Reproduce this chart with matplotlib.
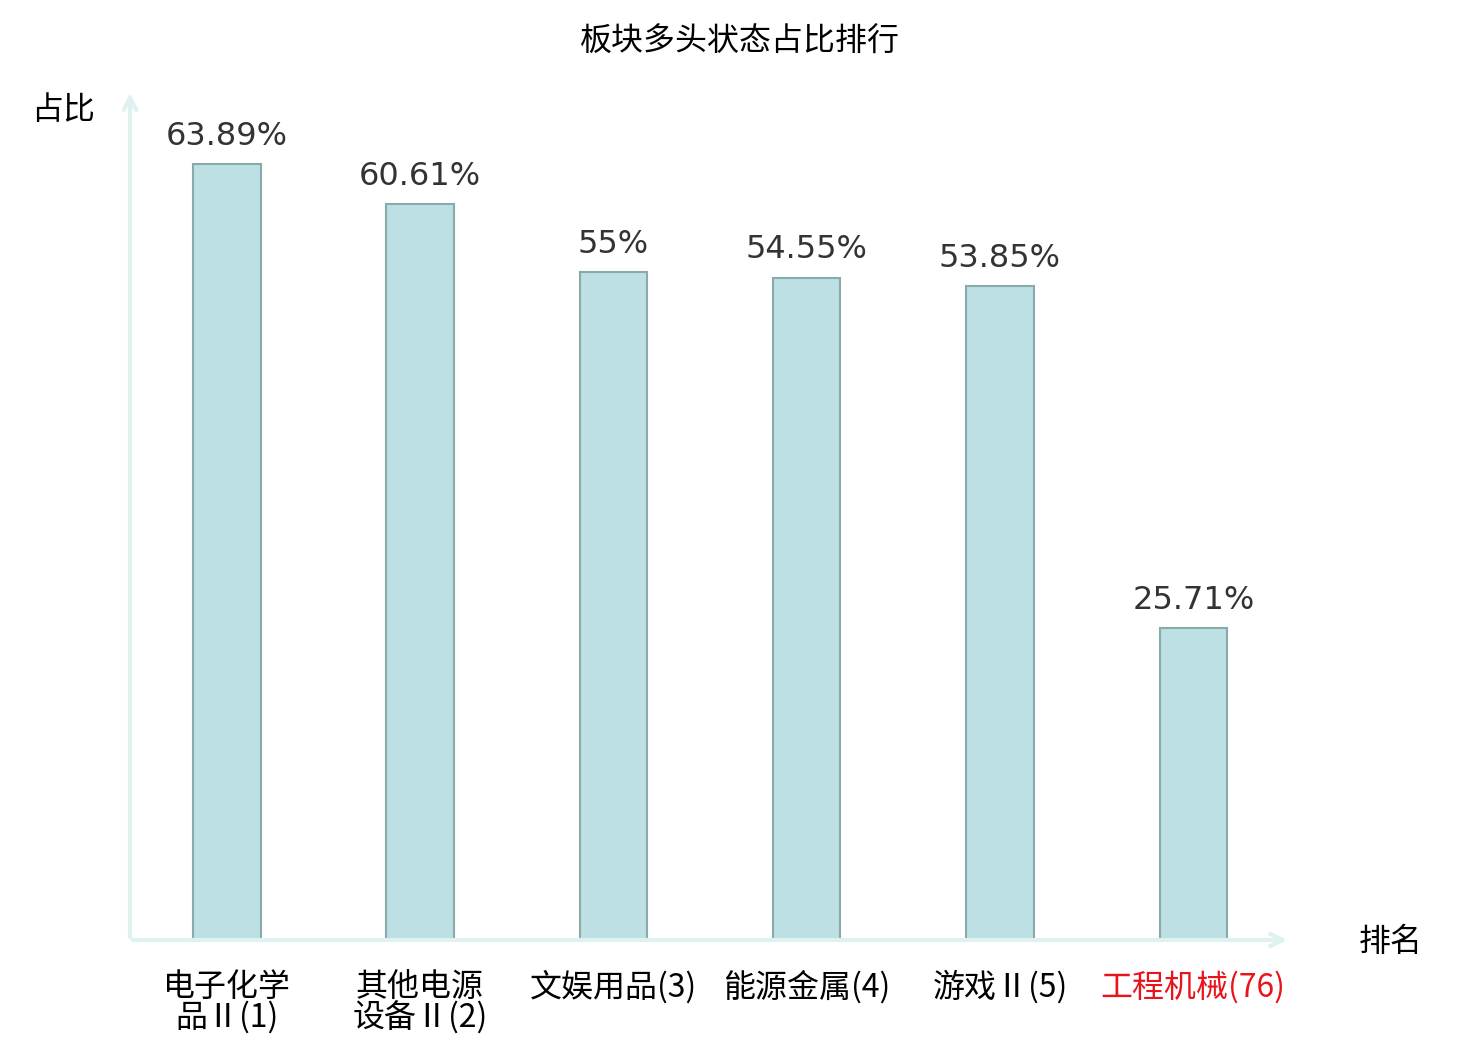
import matplotlib
matplotlib.use("Agg")
import matplotlib.pyplot as plt

plt.rcParams['font.family'] = ['Noto Sans CJK SC', 'DejaVu Sans']

categories = ["电子化学\n品Ⅱ(1)", "其他电源\n设备Ⅱ(2)", "文娱用品(3)", "能源金属(4)", "游戏Ⅱ(5)", "工程机械(76)"]
values = [63.89, 60.61, 55, 54.55, 53.85, 25.71]
value_labels = ["63.89%", "60.61%", "55%", "54.55%", "53.85%", "25.71%"]
label_colors = ["black", "black", "black", "black", "black", "#e8141c"]

axis_color = "#dff2ef"

fig = plt.figure(figsize=(14.8, 10.4), dpi=100)
ax = fig.add_axes([130 / 1480, 100 / 1040, 1160 / 1480, 850 / 1040])

xs = list(range(len(values)))
ax.bar(xs, values, width=0.35, color="#bce0e3", edgecolor="#8aa9a9", linewidth=1.5, zorder=2)

for x, v, t in zip(xs, values, value_labels):
    ax.text(x, v + 1.0, t, ha="center", va="bottom", fontsize=23,
            color="#333333", family="DejaVu Sans")

ax.set_xlim(-0.5, 5.5)
ax.set_ylim(0, 70)
for s in ax.spines.values():
    s.set_visible(False)
ax.set_yticks([])
ax.set_xticks(xs)
ax.set_xticklabels(categories, fontsize=23, linespacing=0.95)
ax.tick_params(axis="x", length=0, pad=22)
for lbl, c in zip(ax.get_xticklabels(), label_colors):
    lbl.set_color(c)
    lbl.set_verticalalignment("top")

# axis arrows
ax.annotate("", xy=(1.0, 0), xytext=(0, 0), xycoords="axes fraction",
            arrowprops=dict(arrowstyle="->,head_length=0.9,head_width=0.45",
                            color=axis_color, lw=3), annotation_clip=False)
ax.annotate("", xy=(0, 1.0), xytext=(0, 0), xycoords="axes fraction",
            arrowprops=dict(arrowstyle="->,head_length=0.9,head_width=0.45",
                            color=axis_color, lw=3), annotation_clip=False)

fig.text(63 / 1480, 1 - 110 / 1040, "占比", ha="center", va="center", fontsize=23)
fig.text(1391 / 1480, 1 - 942 / 1040, "排名", ha="center", va="center", fontsize=23)
fig.text(740 / 1480, 1 - 42 / 1040, "板块多头状态占比排行", ha="center", va="center", fontsize=23)

fig.savefig("out.png", dpi=100)
